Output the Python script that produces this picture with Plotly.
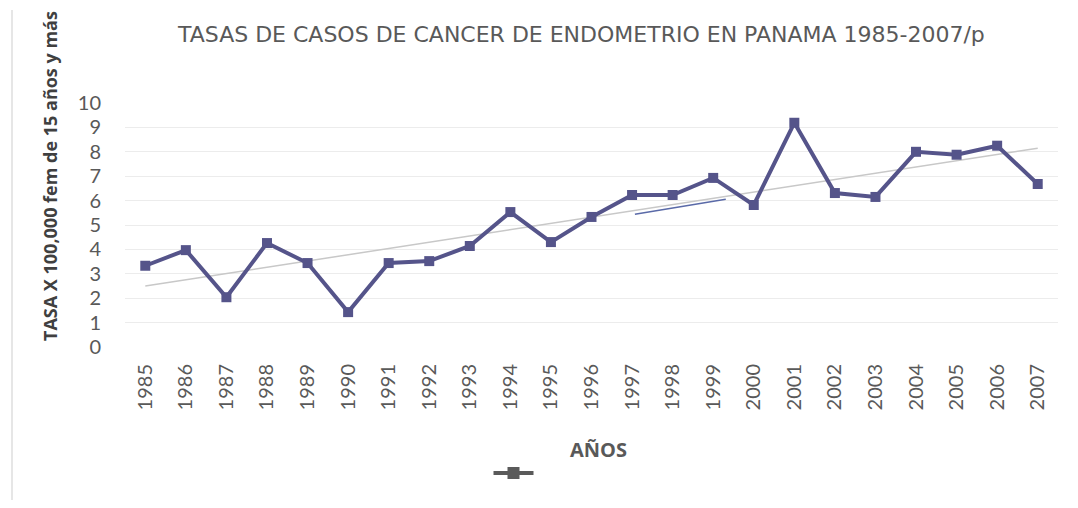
import numpy as np
import plotly.graph_objects as go

years = list(range(1985, 2008))
tasas = [3.33, 3.97, 2.04, 4.26, 3.44, 1.43, 3.44, 3.52, 4.14, 5.53, 4.30, 5.33,
         6.23, 6.23, 6.93, 5.82, 9.19, 6.31, 6.15, 8.00, 7.88, 8.25, 6.68]
y_ticks = list(range(0, 11))
title_text = "TASAS DE CASOS DE CANCER DE ENDOMETRIO EN PANAMA 1985-2007/p"
y_title = "TASA X 100,000 fem de 15 años y más"
x_title = "AÑOS"

# stray segment visible in the source image
seg_x = [1997.07, 1999.31]
seg_y = [5.44, 6.06]

coef = np.polyfit(years, tasas, 1)
trend = [coef[0] * yr + coef[1] for yr in years]

fig = go.Figure()
fig.add_trace(go.Scatter(x=years, y=trend, mode="lines",
                         line=dict(color="#c8c8c8", width=1.5),
                         showlegend=False, hoverinfo="skip"))
fig.add_trace(go.Scatter(x=seg_x, y=seg_y, mode="lines",
                         line=dict(color="#5a6aa8", width=1.5),
                         showlegend=False, hoverinfo="skip"))
fig.add_trace(go.Scatter(x=years, y=tasas, mode="lines+markers", name="",
                         line=dict(color="#55548a", width=4),
                         marker=dict(symbol="square", size=10, color="#55548a"),
                         showlegend=False))
# legend entry (rendered dark gray in the source)
fig.add_trace(go.Scatter(x=[None], y=[None], mode="lines+markers", name="",
                         line=dict(color="#5a5a5a", width=4),
                         marker=dict(symbol="square", size=12, color="#5a5a5a"),
                         showlegend=True))

fig.update_layout(
    width=1078, height=508,
    margin=dict(l=125, r=20, t=103, b=161),
    paper_bgcolor="white", plot_bgcolor="white",
    font=dict(family="Open Sans", color="#595959"),
    showlegend=True,
    legend=dict(x=(516 - 125) / 933, xanchor="center", y=(347 - 473) / 244,
                yanchor="middle", orientation="h", font=dict(size=1),
                itemwidth=40, bgcolor="rgba(0,0,0,0)"),
    xaxis=dict(range=[1984.5, 2007.5], tickmode="array", tickvals=years,
               ticktext=[str(y) for y in years], tickangle=-90,
               tickfont=dict(family="Lato", size=20, color="#595959"),
               showgrid=False, zeroline=False, showline=False, ticks="",
               ticklabelstandoff=12),
    yaxis=dict(range=[0, 10], tickmode="array", tickvals=y_ticks,
               tickfont=dict(family="Lato", size=20, color="#595959"),
               showgrid=True, gridcolor="#ececec", gridwidth=1,
               zeroline=False, showline=False, ticks="", ticklabelstandoff=23),
    annotations=[
        dict(text=title_text, xref="paper", yref="paper", x=(581 - 125) / 933,
             y=1 + (103 - 35) / 244, xanchor="center", yanchor="middle",
             showarrow=False, font=dict(family="DejaVu Sans", size=22, color="#595959")),
        dict(text="<b>" + y_title + "</b>", xref="paper", yref="paper",
             x=(50 - 125) / 933, y=(347 - 176) / 244, xanchor="center",
             yanchor="middle", textangle=-90, showarrow=False,
             font=dict(family="Open Sans", size=18, color="#404040")),
        dict(text="<b>" + x_title + "</b>", xref="paper", yref="paper",
             x=(598 - 125) / 933, y=(347 - 449) / 244, xanchor="center",
             yanchor="middle", showarrow=False,
             font=dict(family="Open Sans", size=20, color="#595959")),
    ],
    shapes=[dict(type="line", xref="paper", yref="paper",
                 x0=(12 - 125) / 933, x1=(12 - 125) / 933,
                 y0=(347 - 500) / 244, y1=(347 - 10) / 244,
                 line=dict(color="#e6e6e6", width=2))],
)

fig.write_html("out.html", config={"displayModeBar": False},
               post_script="document.body.style.margin='0';")
